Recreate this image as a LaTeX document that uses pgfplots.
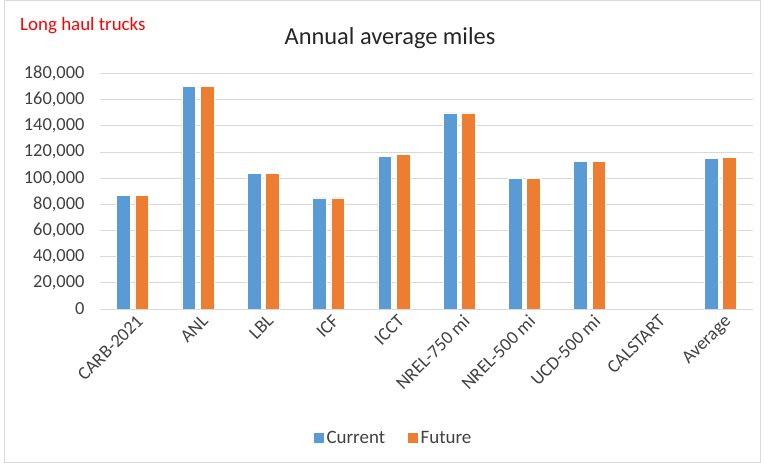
\documentclass[border=0pt]{standalone}
\usepackage{pgfplots}
\pgfplotsset{compat=1.18}
\usepackage{fontspec}
\setmainfont{Carlito}
\definecolor{cur}{HTML}{5B9BD5}
\definecolor{fut}{HTML}{ED7D31}
\definecolor{gridc}{HTML}{D9D9D9}
\definecolor{txt}{HTML}{404040}
\begin{document}
\begin{tikzpicture}
\useasboundingbox (0,0) rectangle (764bp,463bp);
\draw[gridc, line width=1bp] (4bp,1bp) rectangle (760bp,462bp);
\node[anchor=west, text=red, font=\fontsize{19}{22}\selectfont, inner sep=0] at (20bp,437bp) {Long haul trucks};
\node[anchor=center, text=black!85, font=\fontsize{24.5}{28}\selectfont, inner sep=0] at (390bp,425bp) {Annual average miles};
\begin{axis}[
  at={(100bp,154bp)}, anchor=south west,
  scale only axis, width=653bp, height=235.3bp,
  xmin=-0.5, xmax=9.5, ymin=0, ymax=180000,
  ybar, bar width=0.21,
  axis line style={draw=none},
  scaled y ticks=false,
  ytick={0,20000,40000,60000,80000,100000,120000,140000,160000,180000},
  yticklabels={0,{20,000},{40,000},{60,000},{80,000},{100,000},{120,000},{140,000},{160,000},{180,000}},
  ymajorgrids, grid style={gridc, line width=1bp},
  major tick length=0pt,
  xtick={0,1,2,3,4,5,6,7,8,9},
  xticklabels={CARB-2021,ANL,LBL,ICF,ICCT,NREL-750 mi,NREL-500 mi,UCD-500 mi,CALSTART,Average},
  xticklabel style={rotate=45, anchor=north east, font=\fontsize{18.5}{20}\selectfont, text=txt, xshift=2bp, yshift=-2bp},
  yticklabel style={font=\fontsize{18.5}{20}\selectfont, text=txt, xshift=-12bp},
  legend style={at={(0.449,-0.548)}, anchor=center, draw=none, legend columns=2,
    font=\fontsize{19}{20}\selectfont, text=txt,
    /tikz/every even column/.append style={column sep=20bp}},
  legend image code/.code={\fill[#1] (0bp,-5.5bp) rectangle (11bp,5.5bp);},
]
\addplot[fill=cur, draw=white, line width=0.6bp, bar shift=-0.14] coordinates {
 (0,87000) (1,170000) (2,104000) (3,85000) (4,117000) (5,150000) (6,100000) (7,113000) (9,115300)};
\addlegendentry{Current}
\addplot[fill=fut, draw=white, line width=0.6bp, bar shift=0.14] coordinates {
 (0,87000) (1,170000) (2,104000) (3,85000) (4,118500) (5,150000) (6,100000) (7,113000) (9,116000)};
\addlegendentry{Future}
\end{axis}
\end{tikzpicture}
\end{document}
